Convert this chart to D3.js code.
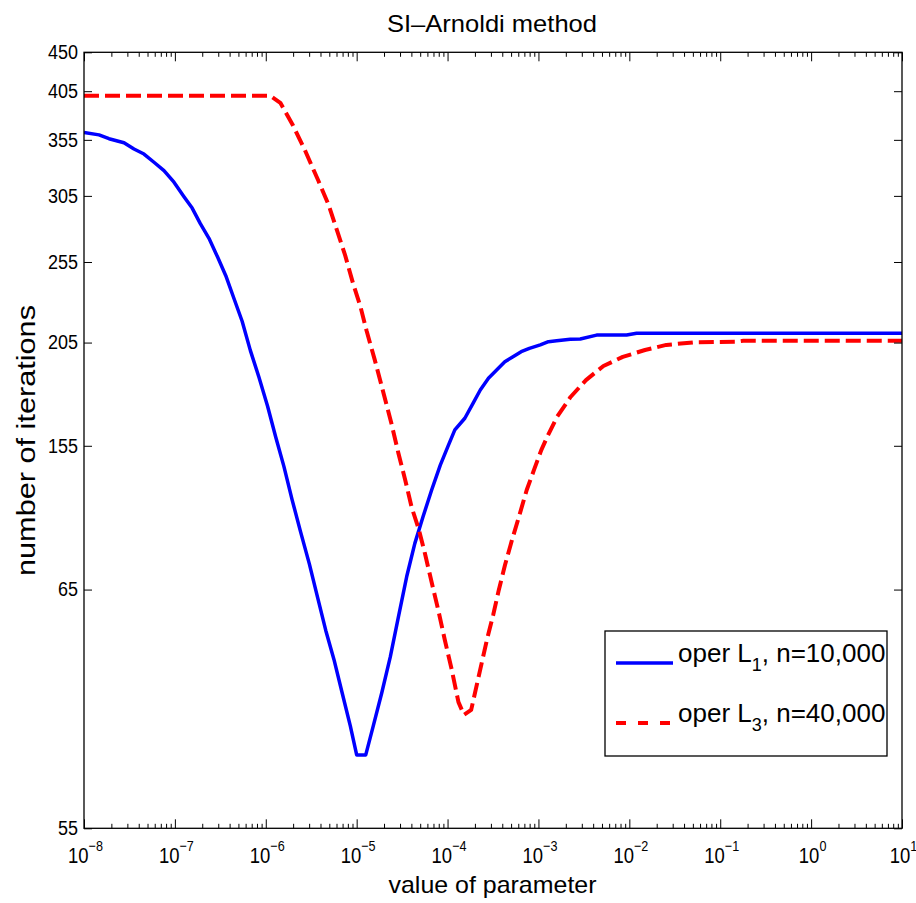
<!DOCTYPE html>
<html lang="en">
<head>
  <meta charset="utf-8"/>
  <title>SI-Arnoldi method</title>
  <script src="https://d3js.org/d3.v7.min.js"></script>
  <style>
    body { margin: 0; background: #fff; }
    svg text { font-family: "Liberation Sans", Arial, Helvetica, sans-serif; fill: #000; }
  </style>
</head>
<body>
<svg id="chart" width="916" height="903"></svg>
<script>
  // exponents of the parameter (10^e) and iteration counts
  const l1Exp = [-8, -7.835, -7.725, -7.56, -7.45, -7.34, -7.23, -7.12, -7.01, -6.90,
    -6.81, -6.72, -6.625, -6.53, -6.44, -6.35, -6.26, -6.17, -6.075, -5.98,
    -5.89, -5.80, -5.71, -5.62, -5.52, -5.43, -5.34, -5.25, -5.16, -5.07,
    -5.0, -4.90, -4.82, -4.725, -4.63, -4.54, -4.45, -4.36, -4.27, -4.175,
    -4.08, -3.99, -3.92, -3.81, -3.72, -3.64, -3.55, -3.46, -3.37, -3.28,
    -3.19, -3.10, -2.98, -2.89, -2.80, -2.65, -2.54, -2.36, -2.03, -1.92, 1];
  const l1Iter = [362.2, 359.8, 356.1, 352.2, 346.3, 341.6, 334.1, 326.6, 316.5, 304.3,
    295.1, 282.9, 271.9, 258.4, 245.7, 231.0, 217.2, 200.7, 186.6, 172.5,
    158.6, 146.5, 133.9, 123.1, 112.5, 102.8, 94.0, 86.9, 79.4, 72.6,
    67.1, 67.1, 72.4, 79.3, 87.5, 97.6, 108.7, 119.0, 127.9, 137.5,
    147.1, 155.3, 161.8, 167.0, 173.9, 180.3, 186.1, 190.3, 194.6, 197.3,
    200.0, 201.8, 203.7, 205.5, 206.0, 206.8, 207.0, 209.2, 209.2, 210.2, 210.2];

  const l3Exp = [-8, -5.95, -5.84, -5.70, -5.57, -5.42, -5.31, -5.22, -5.13, -5.04,
    -4.96, -4.89, -4.80, -4.71, -4.615, -4.54, -4.47, -4.395, -4.32, -4.25,
    -4.175, -4.10, -4.03, -3.955, -3.88, -3.82, -3.74, -3.624, -3.562, -3.498,
    -3.436, -3.368, -3.291, -3.209, -3.129, -3.049, -2.969, -2.898, -2.796, -2.647,
    -2.477, -2.285, -2.072, -1.828, -1.593, -1.296, -0.819, -0.746, 1];
  const l3Iter = [400, 400, 392.5, 369.0, 345.4, 317.5, 297.9, 278.5, 260.4, 240.7,
    226.3, 211.5, 195.5, 179.7, 164.2, 151.8, 141.9, 131.2, 124.0, 115.9,
    107.1, 99.1, 91.6, 84.6, 77.4, 74.8, 75.8, 86.1, 92.1, 98.0,
    104.9, 112.2, 120.1, 128.5, 137.5, 145.2, 153.2, 159.2, 167.6, 176.9,
    185.2, 192.4, 197.2, 200.9, 203.7, 205.1, 205.5, 206.0, 206.0];

  const xTickExp = [-8, -7, -6, -5, -4, -3, -2, -1, 0, 1];
  const yTicks = [55, 105, 155, 205, 255, 305, 355, 405, 450];
  const yTickLabels = ["55", "65", "155", "205", "255", "305", "355", "405", "450"];

  const series = [
    { name: "1", n: "10,000", exps: l1Exp, iters: l1Iter, color: "#0000ff", dash: null },
    { name: "3", n: "40,000", exps: l3Exp, iters: l3Iter, color: "#ff0000", dash: "15,6" }
  ];

  const svg = d3.select("#chart");
  const margin = { top: 52.3, left: 84, right: 14, bottom: 74.7 };
  const width = 916 - margin.left - margin.right;
  const height = 903 - margin.top - margin.bottom;

  const g = svg.append("g").attr("transform", `translate(${margin.left},${margin.top})`);

  const x = d3.scaleLog().domain([1e-8, 10]).range([0, width]);
  const y = d3.scaleLog().domain([55, 450]).range([height, 0]);

  const majors = xTickExp.map(e => Math.pow(10, e));
  const minors = [];
  xTickExp.slice(0, -1).forEach(e => {
    for (let k = 2; k <= 9; k++) minors.push(k * Math.pow(10, e));
  });

  g.append("defs").append("clipPath").attr("id", "plotClip")
    .append("rect").attr("width", width).attr("height", height);

  // lines
  const line = d3.line()
    .x(d => x(Math.pow(10, d[0])))
    .y(d => y(d[1]));

  series.forEach(s => {
    const pts = s.exps.map((e, i) => [e, s.iters[i]]);
    g.append("path")
      .datum(pts)
      .attr("clip-path", "url(#plotClip)")
      .attr("fill", "none")
      .attr("stroke", s.color)
      .attr("stroke-width", s.dash ? 4 : 3.5)
      .attr("stroke-linejoin", "round")
      .attr("stroke-dasharray", s.dash)
      .attr("d", line);
  });

  function styleAxis(sel) {
    sel.select(".domain").remove();
    sel.selectAll(".tick line").attr("stroke", "#000").attr("stroke-width", 1);
  }

  // bottom axis: major + minor ticks
  const xAxisG = g.append("g").attr("transform", `translate(0,${height})`)
    .call(d3.axisBottom(x).tickValues(majors).tickSize(-9).tickFormat(""))
    .call(styleAxis);
  g.append("g").attr("transform", `translate(0,${height})`)
    .call(d3.axisBottom(x).tickValues(minors).tickSize(-4.5).tickFormat(""))
    .call(styleAxis);
  // top mirror
  g.append("g")
    .call(d3.axisTop(x).tickValues(majors).tickSize(-9).tickFormat(""))
    .call(styleAxis);
  g.append("g")
    .call(d3.axisTop(x).tickValues(minors).tickSize(-4.5).tickFormat(""))
    .call(styleAxis);

  // x tick labels 10^e, slightly condensed like the original
  xAxisG.selectAll(".tick").each(function(d) {
    const t = d3.select(this).append("g")
      .attr("transform", "translate(1,34.7) scale(0.84,1)")
      .append("text")
      .attr("text-anchor", "middle")
      .style("font-size", "22px");
    t.append("tspan").text("10");
    t.append("tspan")
      .attr("dy", -12)
      .style("font-size", "15px")
      .text(Math.round(Math.log10(d)).toString().replace("-", "\u2212"));
  });

  // y axes
  g.append("g")
    .call(d3.axisLeft(y).tickValues(yTicks).tickSize(-8).tickPadding(6)
      .tickFormat((d, i) => yTickLabels[i]))
    .call(styleAxis)
    .selectAll(".tick text")
    .style("font-size", "20px")
    .attr("textLength", function() { return this.textContent.length * 10; })
    .attr("lengthAdjust", "spacingAndGlyphs");
  g.append("g").attr("transform", `translate(${width},0)`)
    .call(d3.axisRight(y).tickValues(yTicks).tickSize(-8).tickFormat(""))
    .call(styleAxis);

  // box
  g.append("rect")
    .attr("width", width).attr("height", height)
    .attr("fill", "none").attr("stroke", "#000").attr("stroke-width", 1.3);

  // title and axis labels
  svg.append("text")
    .attr("x", margin.left + width / 2 - 1).attr("y", 31.5)
    .attr("text-anchor", "middle").style("font-size", "24px")
    .attr("textLength", 210).attr("lengthAdjust", "spacingAndGlyphs")
    .text("SI\u2013Arnoldi method");
  svg.append("text")
    .attr("x", 492.5).attr("y", 893)
    .attr("text-anchor", "middle").style("font-size", "24px")
    .attr("textLength", 208).attr("lengthAdjust", "spacingAndGlyphs")
    .text("value of parameter");
  svg.append("text")
    .attr("transform", "translate(35,440.5) rotate(-90)")
    .attr("text-anchor", "middle").style("font-size", "25px")
    .attr("textLength", 271).attr("lengthAdjust", "spacingAndGlyphs")
    .text("number of iterations");

  // legend
  const leg = svg.append("g").attr("transform", "translate(605,631)");
  leg.append("rect").attr("width", 282).attr("height", 125)
    .attr("fill", "#fff").attr("stroke", "#000").attr("stroke-width", 1.3);
  series.forEach((s, i) => {
    const ly = 32 + i * 60;
    leg.append("line")
      .attr("x1", 11).attr("x2", 68).attr("y1", ly).attr("y2", ly)
      .attr("stroke", s.color).attr("stroke-width", s.dash ? 4 : 3.5)
      .attr("stroke-dasharray", s.dash ? "10,12" : null);
    const t = leg.append("text").attr("x", 73).attr("y", ly - 1).style("font-size", "26px");
    t.append("tspan").text("oper L");
    t.append("tspan").attr("dy", 9).style("font-size", "18px").text(s.name);
    t.append("tspan").attr("dy", -9).text(", n=" + s.n);
  });
</script>
</body>
</html>
